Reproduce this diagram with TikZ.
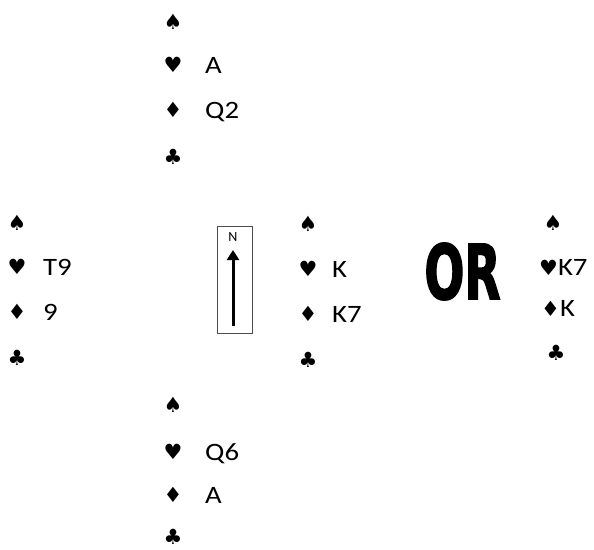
\documentclass[tikz,border=0pt]{standalone}
\usepackage{fontspec}
\setmainfont{Carlito}
\newfontfamily\txtfont[FakeStretch=1.15]{Carlito}
\newfontfamily\suitfont{DejaVu Sans}
\newfontfamily\orfont[FakeBold=2.5]{DejaVu Sans Condensed Bold}
\usetikzlibrary{arrows.meta}
\begin{document}
\begin{tikzpicture}[x=1pt,y=-1pt,
  suit/.style={inner sep=0pt,anchor=center,font=\suitfont\fontsize{21}{21}\selectfont},
  cards/.style={inner sep=0pt,anchor=base west,font=\txtfont\fontsize{25}{25}\selectfont}]
\useasboundingbox (0,0) rectangle (594,549);
% North
\node[suit] (ns) at (173,22) {♠};
\node[suit] (nh) at (173,65) {♥};
\node[suit] (nd) at (173,110) {♦};
\node[suit] (nc) at (173,157) {♣};
\node[cards] (nht) at (205,73) {A};
\node[cards] (ndt) at (205,118) {Q2};
% West
\node[suit] (ws) at (17,223) {♠};
\node[suit] (wh) at (17,267) {♥};
\node[suit] (wd) at (17,312) {♦};
\node[suit] (wc) at (17,358) {♣};
\node[cards] (wht) at (43,275) {T9};
\node[cards] (wdt) at (43,320) {9};
% East
\node[suit] (es) at (308,224) {♠};
\node[suit] (eh) at (308,269) {♥};
\node[suit] (ed) at (308,314) {♦};
\node[suit] (ec) at (308,360) {♣};
\node[cards] (eht) at (332,277) {K};
\node[cards] (edt) at (332,322) {K7};
% South
\node[suit] (ss) at (173,405) {♠};
\node[suit] (sh) at (173,452) {♥};
\node[suit] (sd) at (173,495) {♦};
\node[suit] (sc) at (173,537) {♣};
\node[cards] (sht) at (205,460) {Q6};
\node[cards] (sdt) at (205,503) {A};
% OR
\node[inner sep=0pt] (or) at (462.5,271.5) {\resizebox{76pt}{56pt}{\orfont OR}};
% Right alternative
\node[suit] (rs) at (553,223) {♠};
\node[cards] (rh) at (539,275) {{\suitfont\fontsize{21}{21}\selectfont ♥}K7};
\node[cards] (rd) at (541,316) {{\suitfont\fontsize{21}{21}\selectfont ♦}K};
\node[suit] (rc) at (556,353) {♣};
% Compass
\node[draw=black!70,line width=0.8pt,minimum width=35pt,minimum height=107pt,inner sep=0pt] (compass) at (234.5,279.5) {};
\node[inner sep=0pt,font=\fontsize{14}{14}\selectfont] (north) at (233,237) {N};
\coordinate (atail) at (233,326);
\coordinate (ahead) at (233,250);
\draw[line width=3pt,-{Triangle[width=12pt,length=10pt]}] (atail) -- (ahead);
\end{tikzpicture}
\end{document}
